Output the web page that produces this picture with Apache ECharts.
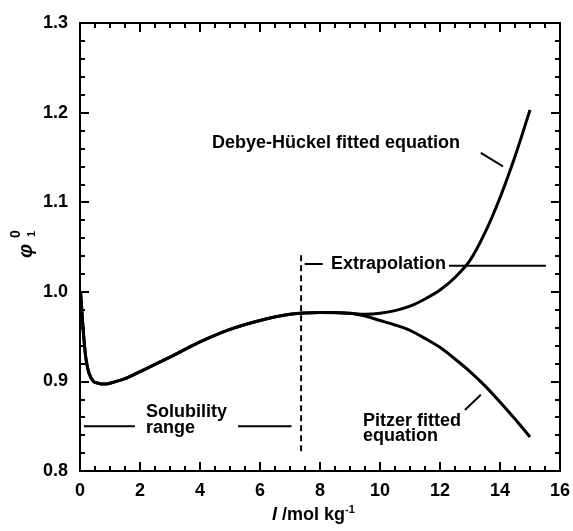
<!DOCTYPE html>
<html>
<head>
<meta charset="utf-8">
<script src="https://cdn.jsdelivr.net/npm/echarts@6/dist/echarts.min.js"></script>
<style>html,body{margin:0;padding:0;background:#fff;}#c{width:573px;height:531px;}</style>
</head>
<body>
<div id="c"></div>
<script>
// Ionic strength I (mol/kg) and osmotic coefficient values
var pitzerI   = [0.02, 0.05, 0.1, 0.15, 0.2, 0.3, 0.45, 0.6, 0.8, 1.0, 1.5, 2, 3, 4, 5, 6, 7, 8, 9, 9.5, 10, 10.5, 11, 11.5, 12, 12.5, 13, 13.5, 14, 14.5, 15];
var pitzerPhi = [1.0, 0.985, 0.96, 0.94, 0.925, 0.909, 0.900, 0.898, 0.897, 0.898, 0.903, 0.911, 0.927, 0.944, 0.958, 0.968, 0.975, 0.977, 0.976, 0.973, 0.968, 0.963, 0.957, 0.948, 0.938, 0.925, 0.911, 0.895, 0.877, 0.858, 0.838];
var dhI   = [0.02, 0.05, 0.1, 0.15, 0.2, 0.3, 0.45, 0.6, 0.8, 1.0, 1.5, 2, 3, 4, 5, 6, 7, 8, 8.5, 9, 9.5, 10, 10.5, 11, 11.5, 12, 12.5, 13, 13.5, 14, 14.5, 15];
var dhPhi = [1.0, 0.985, 0.96, 0.94, 0.925, 0.909, 0.900, 0.898, 0.897, 0.898, 0.903, 0.911, 0.927, 0.944, 0.958, 0.968, 0.975, 0.977, 0.977, 0.976, 0.975, 0.976, 0.979, 0.984, 0.992, 1.002, 1.016, 1.035, 1.066, 1.105, 1.151, 1.203];

// annotation segments in data coordinates
var solubilityLeft  = [[0.13, 0.85], [1.83, 0.85]];
var solubilityRight = [[5.27, 0.85], [7.05, 0.85]];
var extrapLeft      = [[7.49, 1.031], [8.09, 1.031]];
var extrapRight     = [[12.3, 1.029], [15.53, 1.029]];
var dhLeader        = [[13.36, 1.155], [14.1, 1.140]];
var pitzerLeader    = [[12.83, 0.868], [13.36, 0.885]];
var limitLine       = [[7.37, 0.822], [7.37, 1.043]];

// ticks
var xTicks = [0, 2, 4, 6, 8, 10, 12, 14, 16];
var yTicks = [0.8, 0.9, 1.0, 1.1, 1.2, 1.3];
var xMinorStep = 0.5;
var yMinorStep = 0.02;

function zip(a, b) { return a.map(function (v, i) { return [v, b[i]]; }); }
function seg(d, dashed) {
  return {
    type: 'line', data: d, symbol: 'none', silent: true, animation: false,
    lineStyle: { color: '#000', width: 2, type: dashed ? [6, 4] : 'solid' }
  };
}

var font = '"Liberation Sans", Arial, Helvetica, sans-serif';
function axis(pos, isX, step, tickLen, showLine, showLabel) {
  var ticks = isX ? xTicks : yTicks;
  return {
    type: 'value', position: pos, min: ticks[0], max: ticks[ticks.length - 1], interval: step,
    axisLine: { show: showLine, onZero: false, lineStyle: { color: '#000', width: 2 } },
    axisTick: { show: true, inside: true, length: tickLen, lineStyle: { color: '#000', width: 2 } },
    minorTick: { show: false },
    splitLine: { show: false },
    axisPointer: { show: false },
    axisLabel: {
      show: showLabel, color: '#000', fontSize: 18, fontWeight: 'bold', fontFamily: font,
      margin: isX ? 11 : 12,
      formatter: isX ? function (v) { return String(v); } : function (v) { return v.toFixed(1); }
    }
  };
}

var txt = function (x, y, s, extra) {
  var st = Object.assign({ text: s, fill: '#000', font: 'bold 18px ' + font, verticalAlign: 'middle', align: 'left' }, extra || {});
  return { type: 'text', x: x, y: y, style: st, silent: true };
};

var chart = echarts.init(document.getElementById('c'));
chart.setOption({
  animation: false,
  backgroundColor: '#fff',
  grid: { left: 80, right: 12, top: 23, bottom: 60 },
  xAxis: [
    axis('bottom', true, 2, 9, true, true),
    axis('top', true, 2, 9, true, false),
    axis('bottom', true, xMinorStep, 5, false, false),
    axis('top', true, xMinorStep, 5, false, false)
  ],
  yAxis: [
    axis('left', false, 0.1, 9, true, true),
    axis('right', false, 0.1, 9, true, false),
    axis('left', false, yMinorStep, 5, false, false),
    axis('right', false, yMinorStep, 5, false, false)
  ],
  series: [
    { name: 'Pitzer', type: 'line', data: zip(pitzerI, pitzerPhi), symbol: 'none', smooth: 0.3,
      lineStyle: { color: '#000', width: 3 } },
    { name: 'Debye-Hückel', type: 'line', data: zip(dhI, dhPhi), symbol: 'none', smooth: 0.3,
      lineStyle: { color: '#000', width: 3 } },
    seg(solubilityLeft), seg(solubilityRight), seg(extrapLeft), seg(extrapRight),
    seg(dhLeader), seg(pitzerLeader), seg(limitLine, true)
  ],
  graphic: [
    txt(212, 143, 'Debye-Hückel fitted equation'),
    txt(331, 264, 'Extrapolation'),
    txt(146, 412, 'Solubility'),
    txt(146, 428, 'range'),
    txt(363, 421, 'Pitzer fitted'),
    txt(363, 436, 'equation'),
    // x axis title
    txt(272, 515, 'I', { font: 'italic bold 18px ' + font }),
    txt(282, 515, '/mol kg', {}),
    txt(345, 510, '-1', { font: 'bold 11px ' + font }),
    // y axis title (rotated)
    { type: 'text', x: 26, y: 251, rotation: Math.PI / 2, silent: true,
      style: { text: 'φ', fill: '#000', font: 'italic bold 20px ' + font, align: 'center', verticalAlign: 'middle' } },
    { type: 'text', x: 16, y: 234, rotation: Math.PI / 2, silent: true,
      style: { text: '0', fill: '#000', font: 'bold 14px ' + font, align: 'center', verticalAlign: 'middle' } },
    { type: 'text', x: 32, y: 234, rotation: Math.PI / 2, silent: true,
      style: { text: '1', fill: '#000', font: 'bold 11px ' + font, align: 'center', verticalAlign: 'middle' } }
  ]
});
</script>
</body>
</html>
